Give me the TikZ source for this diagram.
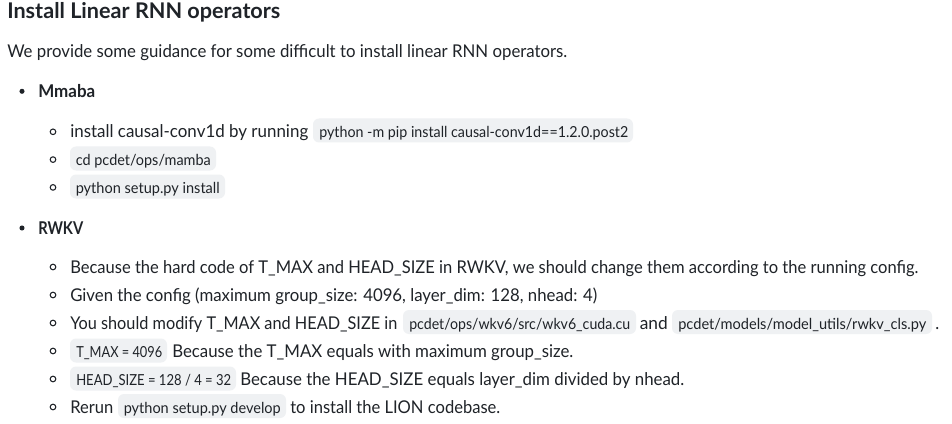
\documentclass[tikz,border=0pt]{standalone}
\usepackage{graphicx}
\usepackage{fontspec}
\setmainfont{Lato}[FakeStretch=0.945]
\newfontfamily\titlefamily{Lato}
\definecolor{fg}{HTML}{1F2328}
\definecolor{codebg}{HTML}{EFF1F3}
\newlength\pxu
\setlength\pxu{0.75pt}
\newcommand\fitw[2]{\resizebox{#1\pxu}{\height}{#2}}
\begin{document}
\begin{tikzpicture}[x=0.75pt,y=-0.75pt,
  txt/.style={anchor=base west,inner sep=0pt,text=fg,font=\fontsize{13.2pt}{16pt}\selectfont},
  boldtxt/.style={anchor=base west,inner sep=0pt,text=fg,font=\fontsize{13.2pt}{16pt}\selectfont\bfseries},
  ttl/.style={anchor=base west,inner sep=0pt,text=fg,font=\titlefamily\fontsize{16.2pt}{18pt}\selectfont\bfseries},
  code/.style={anchor=base west,inner sep=0pt,text=fg,font=\fontsize{11.4pt}{14pt}\selectfont},
  codebox/.style={fill=codebg,draw=none,rounded corners=4.5pt},
  dot/.style={fill=fg,draw=none},
  ring/.style={draw=fg,line width=0.8pt,fill=none}]
\useasboundingbox[fill=white] (0,0) rectangle (952,424);

% title and intro
\node[ttl] (title) at (7,18.3) {\fitw{273}{Install Linear RNN operators}};
\node[txt] (intro) at (7,57.7) {\fitw{560}{We provide some guidance for some difficult to install linear RNN operators.}};

% Mmaba
\fill[dot] (22,91.3) circle[radius=1.9pt];
\node[boldtxt] (mmaba) at (38,97.3) {\fitw{57}{Mmaba}};

\draw[ring] (53,131.8) circle[radius=2.1pt];
\node[txt] (m1) at (70,137.7) {\fitw{238}{install causal-conv1d by running}};
\path[codebox] (313,118.5) rectangle (633,142.5);
\node[code] (m1c) at (319,137.7) {\fitw{309}{python -m pip install causal-conv1d==1.2.0.post2}};

\draw[ring] (53,159.6) circle[radius=2.1pt];
\path[codebox] (70,146.5) rectangle (216,170.5);
\node[code] (m2c) at (75.5,165.5) {\fitw{135}{cd pcdet/ops/mamba}};

\draw[ring] (53,187.4) circle[radius=2.1pt];
\path[codebox] (70,174.5) rectangle (225,198.5);
\node[code] (m3c) at (75.5,193.5) {\fitw{144}{python setup.py install}};

% RWKV
\fill[dot] (22,228) circle[radius=1.9pt];
\node[boldtxt] (rwkv) at (38,234) {\fitw{45}{RWKV}};

\draw[ring] (53,267) circle[radius=2.1pt];
\node[txt] (r1) at (70,273) {\fitw{848}{Because the hard code of T\_MAX and HEAD\_SIZE in RWKV, we should change them according to the running config.}};

\draw[ring] (53,295) circle[radius=2.1pt];
\node[txt] (r2) at (70,301) {\fitw{527}{Given the config (maximum group\_size: 4096, layer\_dim: 128, nhead: 4)}};

\draw[ring] (53,323) circle[radius=2.1pt];
\node[txt] (r3a) at (70,329) {\fitw{327}{You should modify T\_MAX and HEAD\_SIZE in}};
\path[codebox] (403,310) rectangle (636,334);
\node[code] (r3b) at (409,329) {\fitw{221}{pcdet/ops/wkv6/src/wkv6\_cuda.cu}};
\node[txt] (r3c) at (639.5,329) {\fitw{28}{and}};
\path[codebox] (672,310) rectangle (932,334);
\node[code] (r3d) at (678,329) {\fitw{248}{pcdet/models/model\_utils/rwkv\_cls.py}};
\node[txt] (r3e) at (935,329) {.};

\draw[ring] (53,351) circle[radius=2.1pt];
\path[codebox] (70,338.5) rectangle (167,362.5);
\node[code] (r4a) at (76,357) {\fitw{86}{T\_MAX = 4096}};
\node[txt] (r4b) at (172,357) {\fitw{401}{Because the T\_MAX equals with maximum group\_size.}};

\draw[ring] (53,379) circle[radius=2.1pt];
\path[codebox] (70,366.5) rectangle (236,390.5);
\node[code] (r5a) at (76,385) {\fitw{155}{HEAD\_SIZE = 128 / 4 = 32}};
\node[txt] (r5b) at (240,385) {\fitw{444}{Because the HEAD\_SIZE equals layer\_dim divided by nhead.}};

\draw[ring] (53,407) circle[radius=2.1pt];
\node[txt] (r6a) at (70,413) {\fitw{43}{Rerun}};
\path[codebox] (118,394) rectangle (286,418);
\node[code] (r6b) at (123.5,413) {\fitw{157}{python setup.py develop}};
\node[txt] (r6c) at (290,413) {\fitw{210}{to install the LION codebase.}};
\end{tikzpicture}
\end{document}
